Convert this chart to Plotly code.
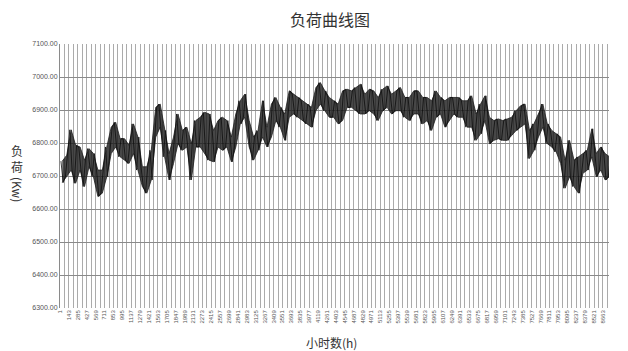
import plotly.graph_objects as go

# Upper / lower envelope of the load curve in each 71-hour grid cell
hi_vals = [6745, 6763, 6840, 6793, 6788, 6748, 6783, 6768, 6718, 6718,
           6788, 6848, 6863, 6813, 6813, 6793, 6858, 6818, 6728, 6728,
           6778, 6908, 6918, 6838, 6768, 6818, 6888, 6838, 6848, 6798,
           6868, 6878, 6893, 6888, 6838, 6868, 6878, 6868, 6818, 6888,
           6928, 6948, 6868, 6818, 6838, 6928, 6848, 6918, 6938, 6908,
           6888, 6958, 6948, 6938, 6928, 6918, 6908, 6968, 6983, 6958,
           6938, 6928, 6918, 6958, 6963, 6958, 6968, 6978, 6948, 6963,
           6958, 6938, 6963, 6973, 6948, 6958, 6968, 6938, 6938, 6958,
           6958, 6938, 6938, 6928, 6958, 6938, 6928, 6938, 6938, 6938,
           6928, 6928, 6943, 6888, 6918, 6943, 6878, 6868, 6873, 6868,
           6873, 6878, 6898, 6913, 6918, 6838, 6858, 6888, 6918, 6858,
           6838, 6828, 6818, 6748, 6808, 6748, 6758, 6768, 6778, 6843,
           6768, 6788, 6768, 6758]
lo_vals = [6680, 6698, 6718, 6678, 6718, 6668, 6728, 6698, 6638, 6648,
           6698, 6768, 6788, 6758, 6748, 6738, 6768, 6718, 6668, 6648,
           6688, 6818, 6848, 6758, 6688, 6738, 6798, 6778, 6788, 6688,
           6788, 6788, 6768, 6748, 6743, 6788, 6778, 6788, 6743, 6788,
           6858, 6878, 6788, 6748, 6778, 6818, 6788, 6818, 6868, 6848,
           6808, 6878, 6888, 6878, 6868, 6858, 6848, 6898, 6918, 6898,
           6878, 6878, 6858, 6868, 6908, 6908, 6898, 6888, 6888, 6898,
           6888, 6868, 6898, 6908, 6888, 6898, 6898, 6878, 6868, 6888,
           6888, 6858, 6868, 6838, 6878, 6888, 6848, 6868, 6888, 6878,
           6878, 6848, 6848, 6808, 6828, 6868, 6798, 6808, 6813, 6808,
           6808, 6823, 6838, 6848, 6858, 6753, 6778, 6818, 6848, 6798,
           6788, 6773, 6738, 6663, 6698, 6668, 6648, 6708, 6718, 6758,
           6698, 6718, 6688, 6698]

CELL_HOURS = 71
TOTAL_HOURS = 8760
tick_labels = [str(1 + 142 * k) for k in range(62)]

title_text = "负荷曲线图"
x_title = "小时数(h)"

cell_x = [1 + CELL_HOURS * i + CELL_HOURS / 2 for i in range(len(hi_vals))]
zx, zy = [], []
for i, (h, l) in enumerate(zip(hi_vals, lo_vals)):
    base = 1 + CELL_HOURS * i
    first, second = (h, l) if i % 2 == 0 else (l, h)
    zx += [base + 14, base + 50]
    zy += [first, second]

fig = go.Figure()
fig.add_trace(go.Scatter(x=cell_x, y=hi_vals, mode="lines",
                         line=dict(color="#1e1e1e", width=0.8),
                         hoverinfo="skip", showlegend=False))
fig.add_trace(go.Scatter(x=cell_x, y=lo_vals, mode="lines", fill="tonexty",
                         fillcolor="rgba(25,25,25,0.8)",
                         line=dict(color="#1e1e1e", width=0.8),
                         hoverinfo="skip", showlegend=False))
fig.add_trace(go.Scatter(x=zx, y=zy, mode="lines",
                         line=dict(color="#0d0d0d", width=0.8),
                         hoverinfo="skip", showlegend=False))

tickvals = [int(t) for t in tick_labels]

fig.update_layout(
    width=628, height=351,
    margin=dict(l=60, r=19, t=44, b=43),
    paper_bgcolor="white", plot_bgcolor="white",
    showlegend=False,
    xaxis=dict(
        range=[0, TOTAL_HOURS],
        tickmode="array", tickvals=tickvals, ticktext=tick_labels,
        tickangle=-90, tickfont=dict(family="Liberation Sans", size=6, color="#555555"),
        showgrid=True, gridcolor="#ababab", gridwidth=1,
        minor=dict(tick0=1 + 71, dtick=142, showgrid=True, gridcolor="#ababab", gridwidth=1),
        showline=False, zeroline=False, ticks="", automargin=False,
    ),
    yaxis=dict(
        range=[6300, 7100], dtick=100, tick0=6300, tickformat=".2f",
        tickfont=dict(family="Liberation Sans", size=7, color="#555555"),
        showgrid=True, gridcolor="#8a8a8a", gridwidth=1,
        showline=True, linecolor="#8a8a8a", linewidth=1,
        zeroline=False, ticks="", automargin=False,
    ),
    annotations=[
        dict(text=title_text, x=0.491, y=1, xref="paper", yref="paper",
             yshift=25, xanchor="center", yanchor="middle", showarrow=False,
             font=dict(family="Noto Sans CJK SC", size=16, color="#333333")),
        dict(text=x_title, x=0.494, y=0, xref="paper", yref="paper",
             yshift=-34, xanchor="center", yanchor="middle", showarrow=False,
             font=dict(family="Noto Sans CJK SC", size=12, color="#333333")),
        dict(text="负<br>荷", x=0, y=0.566, xref="paper", yref="paper",
             xshift=-43, xanchor="center", yanchor="middle", showarrow=False,
             font=dict(family="Noto Sans CJK SC", size=12, color="#333333")),
        dict(text="(Kw)", x=0, y=0.451, xref="paper", yref="paper", textangle=90,
             xshift=-43, xanchor="center", yanchor="middle", showarrow=False,
             font=dict(family="Noto Sans CJK SC", size=12, color="#333333")),
    ],
)

fig.write_html("out.html", config={"displayModeBar": False},
               post_script="document.body.style.margin='0px';")
